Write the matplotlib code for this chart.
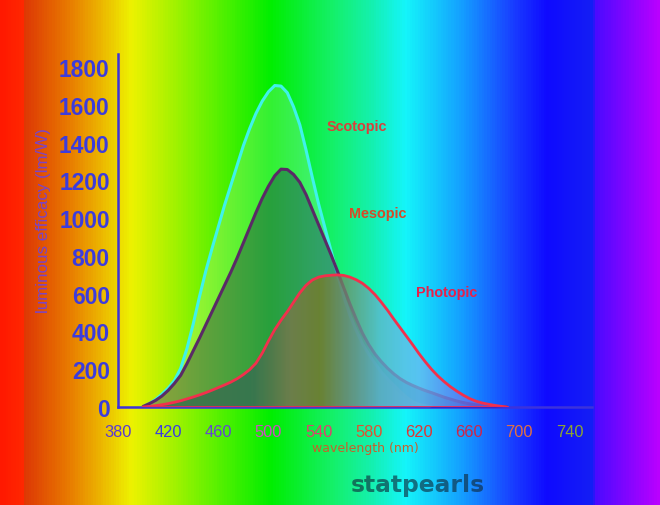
import numpy as np
import matplotlib
matplotlib.use("Agg")
import matplotlib.pyplot as plt
from matplotlib.patches import Polygon
from matplotlib.colors import LinearSegmentedColormap

# --- data (nm, lm/W), 5 nm steps 400..690 -----------------------------------
wavelength = list(range(400, 695, 5))

scotopic = [2, 18, 40, 68, 100, 140, 205, 310, 440, 585,
            720, 840, 955, 1070, 1175, 1280, 1385, 1475, 1555, 1620,
            1670, 1703, 1700, 1665, 1590, 1495, 1360, 1215, 1075, 950,
            825, 700, 585, 485, 405, 335, 280, 230, 185, 148,
            115, 82, 52, 28, 14, 6, 0, 0, 0, 0,
            0, 0, 0, 0, 0, 0, 0, 0, 0]

mesopic = [3, 18, 35, 58, 88, 125, 168, 230, 298, 365,
           435, 505, 575, 645, 715, 790, 870, 950, 1030, 1105,
           1170, 1225, 1260, 1258, 1232, 1190, 1125, 1045, 965, 885,
           805, 720, 632, 545, 465, 390, 330, 280, 240, 205,
           175, 150, 130, 114, 100, 87, 76, 64, 52, 42,
           32, 24, 17, 12, 8, 5, 3, 1, 0]

photopic = [0, 3, 7, 12, 18, 25, 33, 43, 53, 64,
            76, 89, 103, 117, 132, 150, 172, 198, 232, 285,
            350, 410, 460, 505, 555, 605, 645, 673, 688, 695,
            698, 700, 697, 688, 674, 655, 628, 595, 555, 512,
            465, 420, 375, 330, 283, 240, 200, 165, 135, 108,
            85, 64, 46, 32, 22, 15, 9, 4, 0]

x_ticks = [380, 420, 460, 500, 540, 580, 620, 660, 700, 740]
x_tick_colors = ["#5a3ad2", "#3a3ae2", "#6448d0", "#d04cc4", "#e0406e", "#e05232",
                 "#e03634", "#d02448", "#e07044", "#8ca432"]
y_ticks = [0, 200, 400, 600, 800, 1000, 1200, 1400, 1600, 1800]

# background rainbow, position along figure width -> rgb
bg_stops = [(0.0, (255, 25, 0)), (0.033, (255, 40, 0)), (0.034, (222, 55, 5)),
            (0.1, (232, 120, 0)), (0.15, (236, 180, 0)), (0.197, (238, 242, 0)),
            (0.30, (120, 242, 0)), (0.41, (0, 238, 0)), (0.5, (20, 240, 100)),
            (0.56, (20, 240, 170)), (0.615, (20, 245, 250)), (0.7, (20, 160, 255)),
            (0.78, (25, 60, 255)), (0.83, (15, 10, 255)), (0.9, (20, 30, 245)),
            (0.905, (75, 10, 255)), (1.0, (185, 0, 255))]

# photopic fill tint along wavelength
phot_stops = [(400, (45, 110, 75)), (486, (55, 105, 85)), (517, (130, 115, 75)),
              (541, (125, 120, 35)), (561, (115, 140, 110)), (589, (100, 180, 205)),
              (621, (110, 185, 240)), (661, (100, 110, 240)), (690, (90, 80, 240))]

XMIN, XMAX, YMAX = 380, 758, 1870


def make_cmap(stops, lo, hi, name):
    return LinearSegmentedColormap.from_list(
        name, [((p - lo) / (hi - lo), tuple(c / 255 for c in rgb)) for p, rgb in stops])


fig = plt.figure(figsize=(6.6, 5.06), dpi=100)

# --- background ---------------------------------------------------------------
bg = fig.add_axes([0, 0, 1, 1])
bg.imshow(np.linspace(0, 1, 660)[None, :], cmap=make_cmap(bg_stops, 0, 1, "bg"),
          aspect="auto", extent=(0, 1, 0, 1))
bg.set_axis_off()

ax = fig.add_axes([118 / 660, 98 / 506, 474 / 660, 353 / 506])
ax.patch.set_alpha(0)

line_kw = dict(solid_joinstyle="round", solid_capstyle="round")

# scotopic
ax.fill_between(wavelength, scotopic, color="white", alpha=0.2, lw=0, zorder=2)
ax.plot(wavelength[:47], scotopic[:47], color="#3ff2ea", lw=2.2, zorder=3, **line_kw)

# mesopic
ax.fill_between(wavelength, mesopic, color="#140a50", alpha=0.35, lw=0, zorder=4)
ax.plot(wavelength, mesopic, color="#5a2a66", lw=2.2, zorder=5, **line_kw)

# photopic: gradient fill clipped to the curve
verts = np.column_stack([np.r_[wavelength, wavelength[::-1]],
                         np.r_[photopic, np.zeros(len(photopic))]])
clip = Polygon(verts, closed=True, facecolor="none", edgecolor="none",
               transform=ax.transData)
ax.add_patch(clip)
lo, hi = phot_stops[0][0], phot_stops[-1][0]
im = ax.imshow(np.linspace(0, 1, 300)[None, :], cmap=make_cmap(phot_stops, lo, hi, "ph"),
               aspect="auto", extent=(lo, hi, 0, 800), alpha=0.75, zorder=6)
im.set_clip_path(clip)
ax.plot(wavelength, photopic, color="#f2304c", lw=2, zorder=7, **line_kw)
ax.plot([wavelength[0], wavelength[-1]], [0, 0], color="#e8285a", lw=2, zorder=7)
ax.set_xlim(XMIN, XMAX)
ax.set_ylim(0, YMAX)

# curve labels
ax.text(570.4, 1487, "Scotopic", color="#d8403c", fontsize=10.4, fontweight="bold",
        family="Liberation Sans", ha="center", va="center", zorder=8)
ax.text(587, 1027, "Mesopic", color="#d84a28", fontsize=10.4, fontweight="bold",
        family="Liberation Sans", ha="center", va="center", zorder=8)
ax.text(642, 609, "Photopic", color="#e8204a", fontsize=10.4, fontweight="bold",
        family="Liberation Sans", ha="center", va="center", zorder=8)

# axes styling
for side in ["top", "right"]:
    ax.spines[side].set_visible(False)
for side in ["left", "bottom"]:
    ax.spines[side].set_color("#3c32dc")
    ax.spines[side].set_linewidth(1.8)
    ax.spines[side].set_zorder(1)

ax.set_yticks(y_ticks)
ax.set_yticklabels([str(v) for v in y_ticks], fontsize=16.4, color="#3c3cdc",
                   family="Liberation Sans", fontweight="bold")
ax.set_xticks(x_ticks)
ax.set_xticklabels([str(v) for v in x_ticks], fontsize=11.8, family="Liberation Sans")
for lbl, c in zip(ax.get_xticklabels(), x_tick_colors):
    lbl.set_color(c)
ax.tick_params(axis="y", length=0, pad=6)
ax.tick_params(axis="x", length=0, pad=12.5)

ax.set_ylabel("luminous efficacy (lm/W)", fontsize=12.2, color="#7a44c8",
              family="Liberation Sans")
ax.yaxis.set_label_coords(-0.141, 0.53)
ax.set_xlabel("wavelength (nm)", fontsize=9, color="#c8602a")
ax.xaxis.set_label_coords(0.522, -0.096)

fig.text(418 / 660, 1 - 486 / 506, "statpearls", fontsize=16.8, fontweight="bold",
         color=(16 / 255, 40 / 255, 56 / 255), alpha=0.62, ha="center", va="center",
         family="DejaVu Sans")

fig.savefig("out.png", dpi=100)
